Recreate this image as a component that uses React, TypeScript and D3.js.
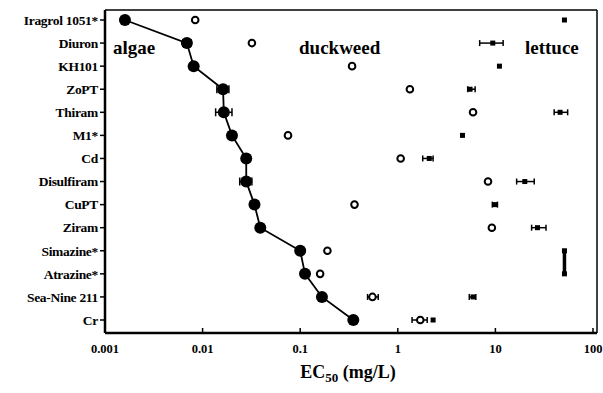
import React from 'react'
import * as d3 from 'd3'

// chemicals, top to bottom
const chemicals = [
  'Iragrol 1051*', 'Diuron', 'KH101', 'ZoPT', 'Thiram', 'M1*', 'Cd',
  'Disulfiram', 'CuPT', 'Ziram', 'Simazine*', 'Atrazine*', 'Sea-Nine 211', 'Cr',
]

// EC50 (mg/L) per species, [value, low, high] (low/high null = no bar)
const algae: [number, number | null, number | null][] = [
  [0.0016, null, null], [0.0069, 0.0063, 0.0076], [0.0081, null, null],
  [0.0162, 0.014, 0.0186], [0.0165, 0.0136, 0.02], [0.02, null, null],
  [0.028, null, null], [0.028, 0.024, 0.032], [0.034, null, null],
  [0.039, null, null], [0.1, null, null], [0.112, null, null],
  [0.167, null, null], [0.35, null, null],
]
const duckweed: [number, number | null, number | null][] = [
  [0.0084, null, null], [0.032, null, null], [0.34, null, null],
  [1.33, null, null], [5.9, null, null], [0.075, null, null],
  [1.07, null, null], [8.4, null, null], [0.36, null, null],
  [9.2, null, null], [0.19, null, null], [0.16, null, null],
  [0.55, 0.49, 0.63], [1.7, 1.4, 2.0],
]
const lettuce: [number, number | null, number | null][] = [
  [51, null, null], [9.4, 6.9, 12], [11, null, null],
  [5.5, 5.2, 6.2], [46, 40, 55], [4.6, null, null],
  [2.1, 1.8, 2.3], [20, 16.5, 25], [10, 9.3, 10.5],
  [27, 23.5, 33], [51, null, null], [51, null, null],
  [5.9, 5.4, 6.3], [2.3, null, null],
]
// lettuce values only known as "> 50": joined by a bar
const lettuceRange = ['Simazine*', 'Atrazine*']

const xTicks = [0.001, 0.01, 0.1, 1, 10, 100]
const xTickLabels = ['0.001', '0.01', '0.1', '1', '10', '100']

const W = 603, H = 393
const left = 105, right = 593, top = 10, bottom = 333
const font = '"Liberation Serif", "Times New Roman", serif'

export default function App() {
  const x = d3.scaleLog().domain([0.001, 100]).range([left, right])
  const y = d3.scalePoint<string>().domain(chemicals).range([20, 320])

  const line = d3.line<[number, number | null, number | null]>()
    .x(d => x(d[0]))
    .y((d, i) => y(chemicals[i]) as number)

  const errBar = (d: [number, number | null, number | null], i: number, key: string, cap = 3) => {
    if (d[1] == null || d[2] == null) return null
    const cy = y(chemicals[i]) as number
    const x1 = x(d[1]), x2 = x(d[2])
    return (
      <g key={key} stroke="#000" strokeWidth={1.5}>
        <line x1={x1} x2={x2} y1={cy} y2={cy} />
        <line x1={x1} x2={x1} y1={cy - cap} y2={cy + cap} />
        <line x1={x2} x2={x2} y1={cy - cap} y2={cy + cap} />
      </g>
    )
  }

  const rangeIdx = lettuceRange.map(c => chemicals.indexOf(c))

  return (
    <svg width={W} height={H} style={{ position: 'absolute', left: 0, top: 0, background: '#fff' }}>
      {/* frame */}
      <line x1={left} x2={left} y1={top} y2={bottom} stroke="#000" strokeWidth={2.5} />
      <line x1={left} x2={right + 4} y1={bottom} y2={bottom} stroke="#000" strokeWidth={2.5} />
      <line x1={left} x2={right + 4} y1={top} y2={top} stroke="#000" strokeWidth={1.5} />
      <line x1={right + 4} x2={right + 4} y1={top} y2={bottom} stroke="#000" strokeWidth={1.5} />

      {/* y axis */}
      {chemicals.map(c => (
        <g key={c} transform={`translate(0,${y(c)})`}>
          <line x1={left - 5} x2={left} stroke="#000" strokeWidth={1.5} />
          <text x={left - 7} dy="0.35em" textAnchor="end" fontFamily={font}
            fontWeight="bold" fontSize={13.5} letterSpacing={-0.3}>{c}</text>
        </g>
      ))}

      {/* x axis */}
      {xTicks.map((t, i) => (
        <g key={t} transform={`translate(${x(t)},0)`}>
          <line y1={bottom} y2={bottom - 5} stroke="#000" strokeWidth={1.5} />
          <text y={bottom + 16} dy="0.35em" textAnchor="middle" fontFamily={font}
            fontWeight="bold" fontSize={12.5}>{xTickLabels[i]}</text>
        </g>
      ))}
      <text x={348} y={378} textAnchor="middle" fontFamily={font} fontWeight="bold" fontSize={18}>
        EC<tspan fontSize={13} dy={4}>50</tspan><tspan dy={-4}> (mg/L)</tspan>
      </text>

      {/* species labels */}
      <g fontFamily={font} fontWeight="bold" fontSize={19}>
        <text x={113} y={54}>algae</text>
        <text x={299} y={54}>duckweed</text>
        <text x={525} y={54}>lettuce</text>
      </g>

      {/* algae */}
      <path d={line(algae) as string} fill="none" stroke="#000" strokeWidth={1.8} />
      {algae.map((d, i) => errBar(d, i, `ae${i}`, 4))}
      {algae.map((d, i) => (
        <circle key={`a${i}`} cx={x(d[0])} cy={y(chemicals[i])} r={6} fill="#000" />
      ))}

      {/* duckweed */}
      {duckweed.map((d, i) => errBar(d, i, `de${i}`))}
      {duckweed.map((d, i) => (
        <circle key={`d${i}`} cx={x(d[0])} cy={y(chemicals[i])} r={3.3}
          fill="#fff" stroke="#000" strokeWidth={2} />
      ))}

      {/* lettuce */}
      <line x1={x(lettuce[rangeIdx[0]][0])} x2={x(lettuce[rangeIdx[1]][0])}
        y1={y(chemicals[rangeIdx[0]])} y2={y(chemicals[rangeIdx[1]])}
        stroke="#000" strokeWidth={3.5} />
      {lettuce.map((d, i) => errBar(d, i, `le${i}`))}
      {lettuce.map((d, i) => (
        <rect key={`l${i}`} x={x(d[0]) - 2.5} y={(y(chemicals[i]) as number) - 2.5}
          width={5} height={5} fill="#000" />
      ))}
    </svg>
  )
}
